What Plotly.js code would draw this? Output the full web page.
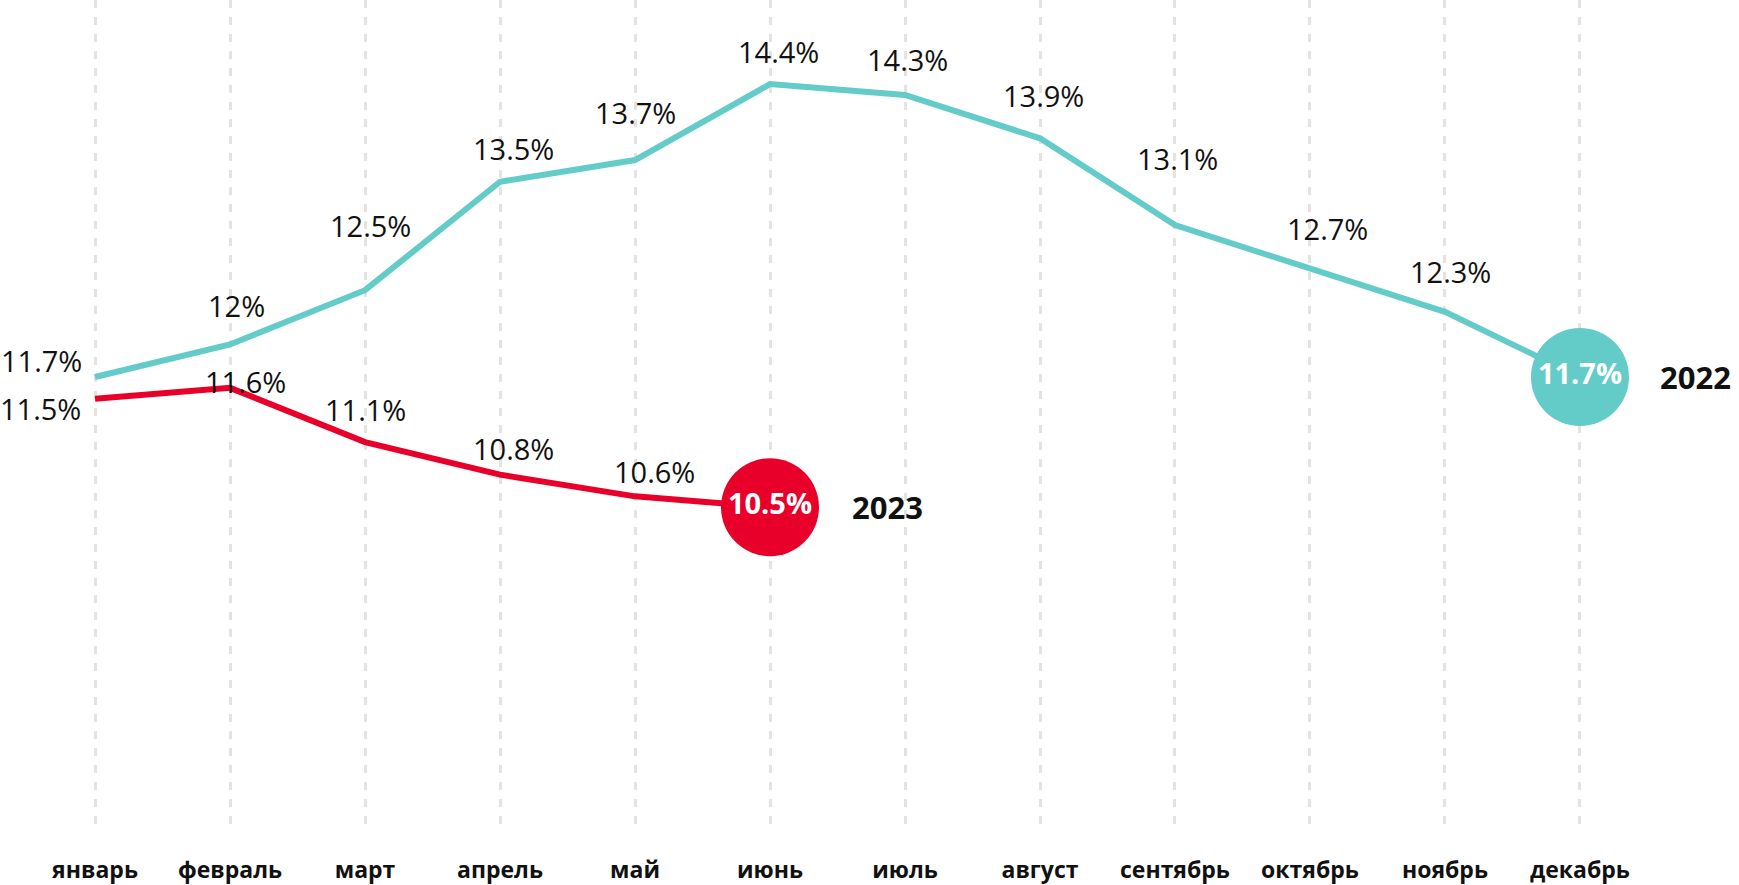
<!DOCTYPE html>
<html>
<head>
<meta charset="utf-8">
<script src="https://cdn.plot.ly/plotly-3.0.1.min.js"></script>
<style>
  html, body { margin: 0; padding: 0; background: #ffffff; }
  #chart { width: 1739px; height: 885px; }
</style>
</head>
<body>
<div id="chart"></div>
<script>
// ---- data ----
const months = ["январь","февраль","март","апрель","май","июнь","июль","август","сентябрь","октябрь","ноябрь","декабрь"];
const series2022 = [11.7, 12.0, 12.5, 13.5, 13.7, 14.4, 14.3, 13.9, 13.1, 12.7, 12.3, 11.7];
const labels2022 = ["11.7%","12%","12.5%","13.5%","13.7%","14.4%","14.3%","13.9%","13.1%","12.7%","12.3%","11.7%"];
const series2023 = [11.5, 11.6, 11.1, 10.8, 10.6, 10.5];
const labels2023 = ["11.5%","11.6%","11.1%","10.8%","10.6%","10.5%"];
const seriesNames = ["2022", "2023"];

// ---- label offsets (pixels: [dx, dy up]) ----
const offsets2022 = [[-54,17],[6,39],[5,65],[13,33],[0,48],[8,33],[2,35],[3,43],[3,67],[18,40],[6,40]];
const offsets2023 = [[-55,-10],[15,6],[0,33],[13,26],[19,25]];

const TEAL = "#63cbc8";
const RED = "#e8002b";
const FONT = "Open Sans, Lato, DejaVu Sans, sans-serif";

const idx = months.map((m, i) => i);

const traces = [
  { x: idx, y: series2022, mode: "lines", line: {color: TEAL, width: 6}, hoverinfo: "skip", showlegend: false },
  { x: idx.slice(0, series2023.length), y: series2023, mode: "lines", line: {color: RED, width: 6}, hoverinfo: "skip", showlegend: false },
  { x: [idx[series2022.length - 1]], y: [series2022[series2022.length - 1]], mode: "markers+text",
    marker: {color: TEAL, size: 98}, text: [labels2022[labels2022.length - 1]], textposition: "middle center",
    textfont: {color: "#ffffff", size: 29, family: FONT, weight: "bold"}, hoverinfo: "skip", showlegend: false },
  { x: [idx[series2023.length - 1]], y: [series2023[series2023.length - 1]], mode: "markers+text",
    marker: {color: RED, size: 98}, text: [labels2023[labels2023.length - 1]], textposition: "middle center",
    textfont: {color: "#ffffff", size: 29, family: FONT, weight: "bold"}, hoverinfo: "skip", showlegend: false }
];

const annotations = [];
offsets2022.forEach((o, i) => {
  annotations.push({ x: idx[i], y: series2022[i], text: labels2022[i], showarrow: false,
    xanchor: "center", yanchor: "middle", xshift: o[0], yshift: o[1],
    font: {family: FONT, size: 29, color: "#111111"} });
});
offsets2023.forEach((o, i) => {
  annotations.push({ x: idx[i], y: series2023[i], text: labels2023[i], showarrow: false,
    xanchor: "center", yanchor: "middle", xshift: o[0], yshift: o[1],
    font: {family: FONT, size: 29, color: "#111111"} });
});
annotations.push({ x: idx[series2022.length - 1], y: series2022[series2022.length - 1], text: seriesNames[0],
  showarrow: false, xanchor: "center", yanchor: "middle", xshift: 116, yshift: 0,
  font: {family: FONT, size: 31, color: "#111111", weight: "bold"} });
annotations.push({ x: idx[series2023.length - 1], y: series2023[series2023.length - 1], text: seriesNames[1],
  showarrow: false, xanchor: "center", yanchor: "middle", xshift: 117, yshift: 0,
  font: {family: FONT, size: 31, color: "#111111", weight: "bold"} });

const layout = {
  width: 1739, height: 885,
  margin: {l: 0, r: 0, t: 0, b: 57},
  paper_bgcolor: "#ffffff", plot_bgcolor: "#ffffff",
  showlegend: false,
  xaxis: {
    range: [-0.704, 12.178], tickvals: idx, ticktext: months,
    showgrid: true, gridcolor: "#e6e2de", gridwidth: 3, griddash: "8px,9px",
    zeroline: false, showline: false, ticks: "",
    ticklabelstandoff: 26,
    tickfont: {family: FONT, size: 23, color: "#111111", weight: "bold"}
  },
  yaxis: {
    range: [7.543, 15.175], showgrid: false, zeroline: false, showline: false,
    showticklabels: false, ticks: ""
  },
  annotations: annotations
};

Plotly.newPlot("chart", traces, layout, {displayModeBar: false, staticPlot: true});
</script>
</body>
</html>
